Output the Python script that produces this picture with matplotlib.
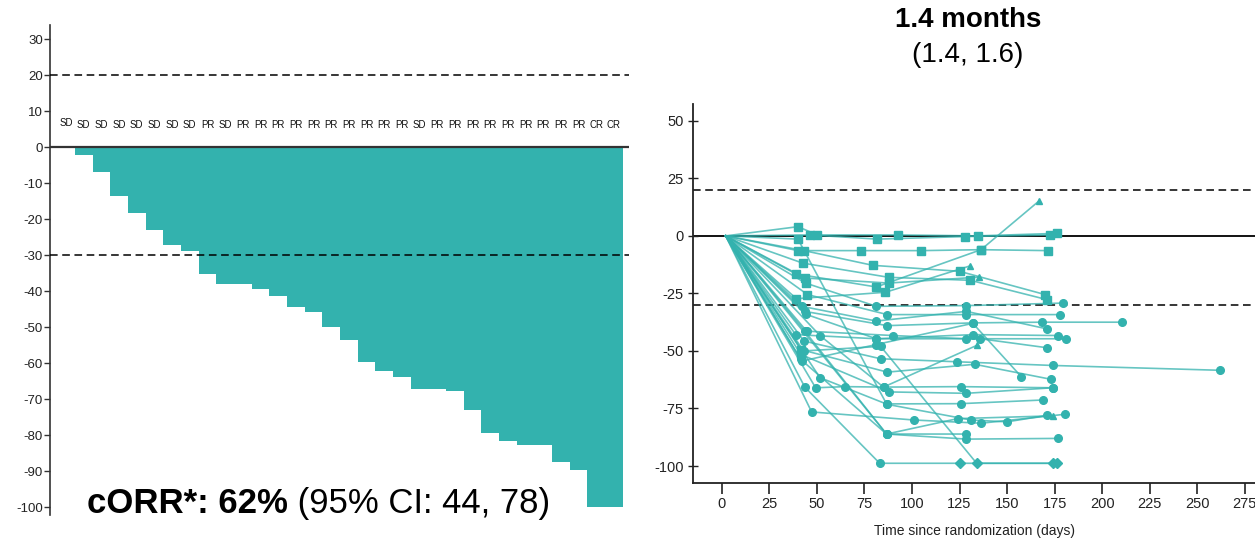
import matplotlib
matplotlib.use('Agg')
import matplotlib.pyplot as plt

plt.rcParams['font.family'] = ['Liberation Sans', 'DejaVu Sans']
plt.rcParams['axes.unicode_minus'] = False

TEAL = '#33b2ae'

# ---------------- Waterfall data ----------------
best_change = [0, -2.1, -6.8, -13.5, -18.2, -23.1, -27.1, -28.9, -35.2, -38.0, -38.0,
               -39.5, -41.4, -44.3, -45.8, -49.9, -53.6, -59.7, -62.3, -63.8, -67.1,
               -67.1, -67.7, -72.9, -79.5, -81.7, -82.8, -82.8, -87.5, -89.7, -100.0, -100.0]
best_response = ['SD', 'SD', 'SD', 'SD', 'SD', 'SD', 'SD', 'SD', 'PR', 'SD', 'PR',
                 'PR', 'PR', 'PR', 'PR', 'PR', 'PR', 'PR', 'PR', 'PR', 'SD',
                 'PR', 'PR', 'PR', 'PR', 'PR', 'PR', 'PR', 'PR', 'PR', 'CR', 'CR']
waterfall_yticks = [30, 20, 10, 0, -10, -20, -30, -40, -50, -60, -70, -80, -90, -100]

# ---------------- Spider data ----------------
spider_days = [
    [2, 40, 50.2, 92.6, 134.5, 176.4],
    [2, 46.2, 81.7, 128, 172.7],
    [2, 40, 73, 104.8, 136.3, 171.3],
    [2, 43.2, 79.4, 125, 170],
    [2, 38.8, 81.2, 136.3, 167],
    [2, 42.4, 87.7, 130.7, 171],
    [2, 43.7, 87.7, 135.4],
    [2, 39.2, 86, 130.7],
    [2, 40, 86.6, 125.5, 169],
    [2, 44, 81.2, 128.6, 179.3],
    [2, 45, 87, 128.6, 178],
    [2, 42, 81.2, 128.6, 171],
    [2, 43.5, 87, 132, 168.3, 210.5],
    [2, 44, 81.2, 136, 171],
    [2, 44.6, 90, 128.6, 181],
    [2, 38.8, 81.2, 132, 177],
    [2, 51.6, 85, 134],
    [2, 43.2, 83.5, 123.7, 174, 262],
    [2, 41.5, 87, 133, 173],
    [2, 41.5, 88, 128.6, 174],
    [2, 42, 81.2, 132, 157.5],
    [2, 51.6, 87, 131, 150, 171],
    [2, 43.6, 86.6, 124, 174],
    [2, 49.3, 64.6, 85, 125.5, 174],
    [2, 47.2, 101, 136.3, 180.6],
    [2, 86.6, 128.6],
    [2, 43.6, 83, 125, 174],
    [2, 43, 83.5, 134, 176.4],
    [2, 41.5, 86.6, 128.6, 176.7],
]
spider_values = [
    [0, 4, 0.4, 0.4, 0, 1.1],
    [0, 0.4, -1.4, -0.3, 0.4],
    [0, -6.4, -6.4, -6.4, -6, -6.4],
    [0, -6.4, -12.8, -15.4, -25.5],
    [0, -16.5, -22.2, -6, 15.3],
    [0, -11.8, -18, -19.3, -27.7],
    [0, -18.3, -20.5, -17.9],
    [0, -27.3, -24.5, -13],
    [0, -1.4, -73, -72.9, -71.3],
    [0, -20.5, -30.6, -30.3, -29.2],
    [0, -25.5, -34.2, -34.2, -34.2],
    [0, -30.6, -37, -32.8, -40.4],
    [0, -32.8, -39, -37.8, -37.5, -37.5],
    [0, -34, -44.7, -44.7, -48.6],
    [0, -41.4, -43.3, -44.7, -44.7],
    [0, -42.9, -44.7, -42.9, -43.3],
    [0, -43.3, -65.7, -47.6],
    [0, -45.7, -53.4, -54.7, -56.3, -58.4],
    [0, -49.4, -59.2, -55.8, -62.3],
    [0, -51.5, -67.8, -68.4, -66],
    [0, -54.4, -47.2, -38, -61.2],
    [0, -61.6, -73.2, -80, -80.8, -78],
    [0, -41.4, -86.1, -79.4, -78.2],
    [0, -66, -65.5, -65.7, -65.5, -66],
    [0, -76.5, -80, -81.4, -77.5],
    [0, -86.1, -86.1],
    [0, -65.7, -98.8, -98.8, -98.8],
    [0, -50, -48, -98.8, -98.8],
    [0, -53.7, -86.1, -88.3, -88],
]
# response symbol per assessment (s=square, o=circle, t=triangle, d=diamond)
spider_symbols = [
    "sssss", "ssss", "sssss", "ssss", "ssst", "ssss", "sst", "sst", "sooo",
    "sooo", "sooo", "oooo", "ooooo", "oooo", "oooo", "oooo", "oot", "ooooo",
    "sooo", "sooo", "oooo", "ooooo", "ooot", "ooooo", "oooo", "oo", "oodd",
    "oodd", "oooo",
]
spider_xticks = [0, 25, 50, 75, 100, 125, 150, 175, 200, 225, 250, 275]
spider_yticks = [50, 25, 0, -25, -50, -75, -100]

W, H = 1255, 539
fig = plt.figure(figsize=(W / 100, H / 100), dpi=100)

# ---------------- Left: waterfall ----------------
lx0, lx1, ly_top, ly_bot = 50, 629, 25, 515
ax1 = fig.add_axes([lx0 / W, 1 - ly_bot / H, (lx1 - lx0) / W, (ly_bot - ly_top) / H])
xs = list(range(len(best_change)))
ax1.bar(xs, best_change, width=1.0, color=TEAL, linewidth=0, zorder=2)
ax1.set_xlim(-0.91, 31.85)
ax1.set_ylim(-102.2, 33.9)
for s in ['top', 'right', 'bottom']:
    ax1.spines[s].set_visible(False)
ax1.spines['left'].set_color('#333333')
ax1.spines['left'].set_linewidth(1.2)
ax1.set_xticks([])
ax1.set_yticks(waterfall_yticks)
ax1.tick_params(axis='y', direction='out', length=4, width=1, color='#333333',
                labelsize=9.5, labelcolor='#222222', pad=1)
ax1.axhline(0, color='#333333', lw=1.6, zorder=3)
ax1.axhline(20, color='black', lw=1.1, ls=(0, (5, 3)), zorder=3)
ax1.axhline(-30, color='black', lw=1.1, ls=(0, (5, 3)), zorder=3)
for i, lab in enumerate(best_response):
    ax1.text(i, 6.8 if i == 0 else 6.0, lab, ha='center', va='center', fontsize=7,
             color='#111111')

# cORR text
renderer = fig.canvas.get_renderer()
t1 = fig.text(87 / W, 1 - 513 / H, 'cORR*: 62%', fontsize=25, fontweight='bold',
              ha='left', va='baseline', color='black')
bb = t1.get_window_extent(renderer=renderer)
fig.text(bb.x1 / W, 1 - 513 / H, ' (95% CI: 44, 78)', fontsize=25,
         ha='left', va='baseline', color='black')

# ---------------- Right: spider ----------------
rx0, rx1, ry_top, ry_bot = 693, 1255, 104, 483.3
ax2 = fig.add_axes([rx0 / W, 1 - ry_bot / H, (rx1 - rx0) / W, (ry_bot - ry_top) / H])
ax2.set_xlim(-15.2, 280.4)
ax2.set_ylim(-107.5, 57.3)
for s in ['top', 'right']:
    ax2.spines[s].set_visible(False)
for s in ['left', 'bottom']:
    ax2.spines[s].set_color('#222222')
    ax2.spines[s].set_linewidth(1.3)
ax2.set_xticks(spider_xticks)
ax2.set_yticks(spider_yticks)
ax2.tick_params(axis='x', direction='out', length=8, width=1.2, color='#222222',
                labelsize=10.5, labelcolor='#222222', pad=2)
ax2.tick_params(axis='y', direction='inout', length=7, width=1.0, color='#222222',
                labelsize=10.5, labelcolor='#222222', pad=3)
ax2.set_xlabel('Time since randomization (days)', fontsize=10, color='#222222', labelpad=9)
ax2.axhline(0, color='black', lw=1.3, zorder=1)
ax2.axhline(20, color='black', lw=1.1, ls=(0, (5, 3)), zorder=1)
ax2.axhline(-30, color='black', lw=1.1, ls=(0, (5, 3)), zorder=1)

marker_map = {'s': ('s', 5.5), 'o': ('o', 5.5), 't': ('^', 4.5), 'd': ('D', 5.0)}
for days, vals, syms in zip(spider_days, spider_values, spider_symbols):
    ax2.plot(days, vals, color=TEAL, lw=1.2, alpha=0.75, zorder=2, clip_on=False)
    for d, v, s in zip(days[1:], vals[1:], syms):
        mk, ms = marker_map[s]
        ax2.plot([d], [v], marker=mk, ms=ms, color=TEAL, mec=TEAL, ls='none', zorder=3)

fig.text(968 / W, 1 - 20 / H, '1.4 months', fontsize=20, fontweight='bold',
         ha='center', va='center', color='black')
fig.text(968 / W, 1 - 55 / H, '(1.4, 1.6)', fontsize=20,
         ha='center', va='center', color='black')

fig.savefig('out.png', dpi=100)
